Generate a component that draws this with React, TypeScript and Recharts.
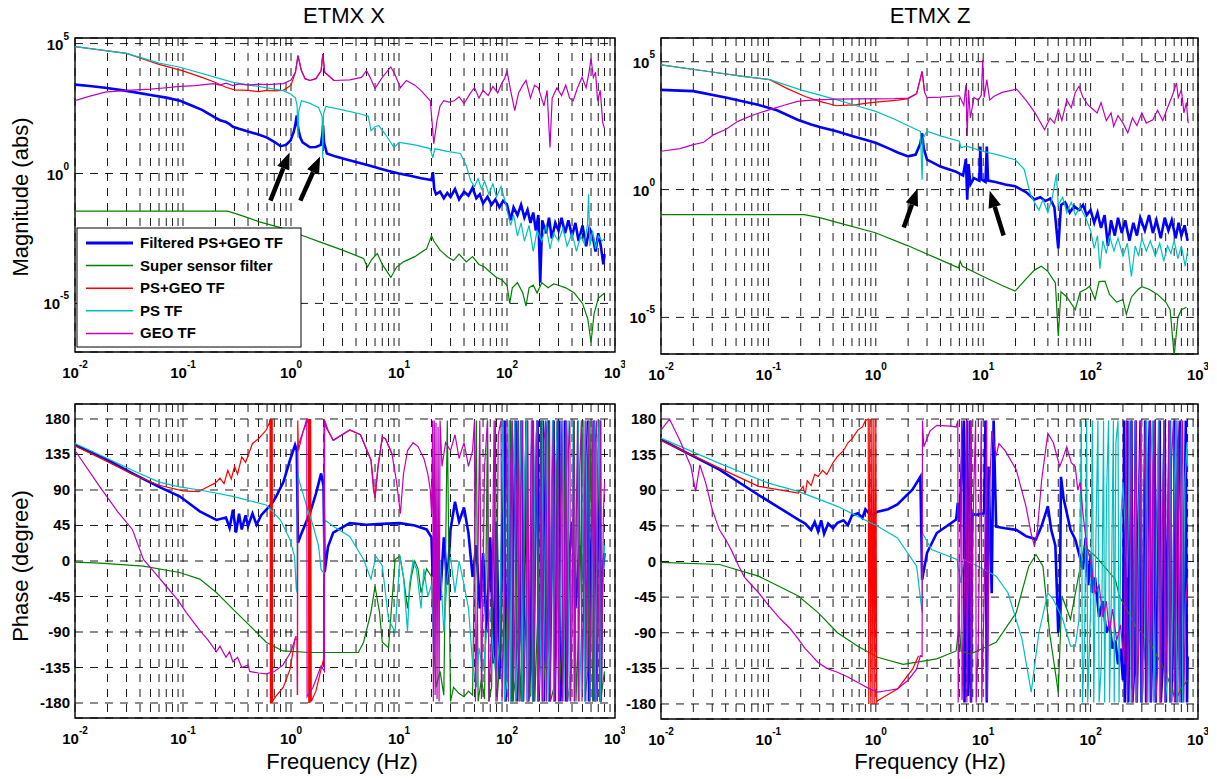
import { LineChart, Line, XAxis, YAxis, CartesianGrid, ReferenceLine, ReferenceArea } from "recharts";

type Pt = [number, number];
type Row = { f: number; v: number };

const FONT = "Arial, 'Liberation Sans', Helvetica, sans-serif";

const SERIES_NAMES = ["Filtered PS+GEO TF", "Super sensor filter", "PS+GEO TF", "PS TF", "GEO TF"];
const SERIES_COLORS = ["#0000ff", "#008000", "#ff0000", "#00bfbf", "#bf00bf"];
const SERIES_WIDTHS = [2.6, 1.2, 1.2, 1.2, 1.2];

const FREQ_TICKS = [
  0.01, 0.02, 0.03, 0.04, 0.05, 0.06, 0.07, 0.08, 0.09,
  0.1, 0.2, 0.3, 0.4, 0.5, 0.6, 0.7, 0.8, 0.9,
  1, 2, 3, 4, 5, 6, 7, 8, 9,
  10, 20, 30, 40, 50, 60, 70, 80, 90,
  100, 200, 300, 400, 500, 600, 700, 800, 900, 1000,
];
const FREQ_EXP: Record<string, string> = { "0.01": "-2", "0.1": "-1", "1": "0", "10": "1", "100": "2", "1000": "3" };
const MAG_TICKS = [1e-5, 1, 1e5];
const MAG_EXP: Record<string, string> = { "0.00001": "-5", "1": "0", "100000": "5" };
const PHASE_TICKS = [-180, -135, -90, -45, 0, 45, 90, 135, 180];

// ---------- ETMX X, magnitude (log10 of |TF|) ----------
const xMagBlue: Pt[] = [
  [0.01, 3.42], [0.013, 3.38], [0.019, 3.3], [0.03, 3.18], [0.05, 3.02], [0.07, 2.92], [0.094, 2.8], [0.12, 2.62],
  [0.15, 2.45], [0.19, 2.2], [0.22, 2.05], [0.25, 1.98], [0.27, 1.9], [0.29, 1.8], [0.33, 1.72], [0.4, 1.62],
  [0.5, 1.5], [0.6, 1.38], [0.7, 1.22], [0.8, 1.05], [0.9, 1.1], [0.99, 1.27], [1.06, 1.6], [1.1, 1.9],
  [1.13, 2.23], [1.17, 1.7], [1.22, 1.38], [1.28, 1.2], [1.5, 1.01], [1.7, 1.02], [1.89, 1.1], [1.95, 1.5],
  [1.98, 1.85], [2.02, 1.2], [2.15, 0.77], [2.6, 0.65], [3.2, 0.55], [4, 0.44], [5.2, 0.32], [6.5, 0.2],
  [8, 0.1], [10, 0.0], [13, -0.1], [16, -0.18], [20, -0.25], [20.6, 0.05], [21.2, -0.6], [22, -0.8],
  [24, -0.7], [26, -0.95], [28, -0.75], [30, -0.9], [33, -0.6], [36, -1.0], [40, -0.7], [44, -0.85],
  [48, -0.55], [52, -0.95], [56, -0.8], [60, -1.15], [66, -0.9], [72, -1.2], [78, -1.0], [85, -1.3],
  [92, -1.05], [100, -1.2], [108, -1.8], [115, -1.3], [125, -1.6], [135, -1.2], [145, -1.7], [155, -1.4],
  [165, -1.9], [175, -1.5], [185, -2.2], [195, -1.6], [203, -4.2], [212, -1.8], [230, -2.3], [245, -1.7],
  [260, -2.5], [280, -1.9], [300, -2.2], [320, -1.7], [345, -2.3], [370, -1.8], [400, -2.4], [430, -1.9],
  [460, -2.6], [500, -2.0], [540, -2.8], [580, -2.1], [620, -2.4], [660, -3.0], [700, -2.3], [740, -2.8],
  [780, -3.5], [800, -3.1],
];
const xMagGreen: Pt[] = [
  [0.01, -1.45], [0.26, -1.45], [0.35, -1.62], [0.5, -1.85], [0.8, -2.08], [1.2, -2.35], [1.9, -2.65], [3, -2.95],
  [4.7, -3.27], [5.1, -3.6], [5.6, -3.3], [6.3, -3.08], [7, -3.5], [8.4, -4.0], [9.5, -3.6], [11, -3.4],
  [14, -3.2], [18, -2.9], [20, -2.4], [21, -2.6], [24, -2.95], [28, -3.2], [32, -3.35], [36, -3.1],
  [42, -3.4], [48, -3.2], [55, -3.5], [62, -3.6], [70, -3.8], [80, -4.0], [90, -4.1], [100, -4.3],
  [106, -5.0], [112, -4.4], [125, -4.2], [140, -4.6], [150, -5.1], [160, -4.4], [175, -4.3], [190, -4.6],
  [210, -4.2], [240, -4.4], [270, -4.25], [300, -4.3], [350, -4.4], [420, -4.6], [500, -5.0], [560, -5.6],
  [600, -6.5], [640, -5.4], [700, -4.8], [800, -4.6],
];
const xMagRed: Pt[] = [
  [0.01, 4.88], [0.03, 4.62], [0.06, 4.2], [0.1, 3.95], [0.15, 3.7], [0.2, 3.5], [0.25, 3.32], [0.3, 3.22],
  [0.4, 3.2], [0.5, 3.15], [0.6, 3.2], [0.7, 3.18], [0.85, 3.2], [1.0, 3.4], [1.1, 3.9], [1.16, 4.54],
  [1.25, 3.95], [1.35, 3.65], [1.5, 3.58], [1.7, 3.65], [1.9, 3.95], [1.97, 4.6], [2.05, 3.9], [2.5, 3.58],
];
const xMagCyan: Pt[] = [
  [0.01, 4.88], [0.03, 4.62], [0.06, 4.25], [0.094, 4.09], [0.2, 3.7], [0.29, 3.51], [0.5, 3.35], [0.7, 3.25],
  [0.85, 3.19], [1.0, 3.05], [1.1, 2.9], [1.14, 2.6], [1.16, 1.38], [1.18, 2.4], [1.25, 2.8], [1.5, 2.7],
  [1.8, 2.54], [1.94, 2.2], [1.97, 0.58], [2.0, 2.3], [2.1, 2.58], [3, 2.45], [4.5, 2.28], [5.2, 2.2],
  [5.5, 1.65], [6.0, 1.8], [6.5, 1.85], [7.5, 1.5], [9, 1.0], [10, 1.2], [14, 1.1], [19.5, 0.96],
  [20.5, 0.6], [21.5, 0.95], [28, 0.85], [37, 0.77], [42, 0.3], [46, -0.27], [50, -0.5], [54, -0.2],
  [58, -0.6], [62, -0.3], [68, -0.8], [74, -0.4], [80, -0.9], [88, -0.5], [95, -1.0], [100, -1.4],
  [108, -2.0], [115, -1.6], [125, -2.4], [135, -1.9], [145, -2.6], [160, -2.0], [175, -3.0], [190, -2.2],
  [210, -2.6], [230, -2.0], [250, -2.9], [270, -2.3], [300, -2.6], [330, -2.1], [360, -2.8], [400, -2.3],
  [440, -3.0], [480, -2.4], [520, -2.7], [555, -2.0], [570, -0.8], [585, -2.8], [620, -2.2], [660, -2.9],
  [700, -2.4], [760, -2.6], [800, -2.5],
];
const xMagMagenta: Pt[] = [
  [0.01, 2.8], [0.013, 2.95], [0.019, 3.13], [0.03, 3.2], [0.05, 3.25], [0.07, 3.3], [0.094, 3.35], [0.13, 3.38],
  [0.19, 3.46], [0.22, 3.4], [0.25, 3.48], [0.29, 3.38], [0.33, 3.45], [0.4, 3.4], [0.5, 3.44], [0.6, 3.42],
  [0.85, 3.46], [1.0, 3.6], [1.1, 3.9], [1.16, 4.54], [1.25, 3.95], [1.35, 3.65], [1.5, 3.58], [1.7, 3.65],
  [1.9, 3.95], [1.97, 4.6], [2.05, 3.9], [2.5, 3.58], [3.5, 3.6], [4.5, 3.7], [5, 3.96], [5.4, 3.7],
  [6, 3.27], [7, 3.7], [8.4, 4.1], [9.2, 3.8], [10.3, 3.3], [11.7, 3.58], [14, 3.4], [16, 3.19],
  [18.5, 2.9], [19.5, 2.8], [21, 1.15], [22.5, 2.04], [24, 2.6], [26, 2.8], [29, 2.75], [32.5, 2.8],
  [36, 2.95], [40, 2.7], [43, 2.9], [46, 3.1], [50, 3.3], [55, 2.9], [60, 3.2], [67, 3.0],
  [74, 3.35], [82, 3.1], [90, 3.5], [95, 3.65], [100, 3.96], [108, 3.2], [118, 2.42], [128, 3.1],
  [140, 3.4], [150, 3.58], [165, 2.9], [180, 3.4], [195, 3.3], [220, 2.6], [235, 3.2], [250, 1.0],
  [262, 2.9], [290, 3.3], [320, 3.0], [350, 3.4], [380, 2.9], [410, 2.8], [450, 3.3], [495, 3.7],
  [540, 3.3], [575, 3.9], [600, 4.42], [630, 3.7], [660, 3.9], [690, 2.8], [730, 3.2], [770, 1.96], [800, 1.73],
];

// ---------- ETMX Z, magnitude (log10 of |TF|) ----------
const zMagBlue: Pt[] = [
  [0.01, 3.9], [0.02, 3.85], [0.04, 3.6], [0.08, 3.32], [0.12, 3.1], [0.187, 2.73], [0.25, 2.55], [0.3, 2.45],
  [0.43, 2.28], [0.6, 2.1], [0.8, 1.95], [1.01, 1.82], [1.3, 1.62], [1.6, 1.45], [2.0, 1.3], [2.35, 1.37],
  [2.6, 1.8], [2.7, 2.2], [2.8, 1.6], [3.0, 1.17], [4, 0.9], [5.5, 0.71], [6.5, 0.55], [6.9, 1.2],
  [7.1, -0.4], [7.3, 1.0], [7.6, 0.2], [8.2, 0.45], [9.2, 0.35], [9.4, 1.68], [9.6, 0.4], [10.5, 0.3],
  [10.8, 1.68], [11.1, 0.35], [13, 0.3], [16, 0.2], [19.8, 0.13], [25, -0.1], [30, -0.39], [34, -0.3],
  [38, -0.45], [42, -0.35], [46, -0.7], [50, -2.3], [53, -0.6], [58, -0.5], [64, -0.9], [70, -0.65],
  [78, -0.8], [85, -0.6], [92, -1.0], [100, -0.8], [108, -1.3], [116, -0.9], [125, -1.5], [135, -1.0],
  [145, -2.2], [155, -1.2], [168, -1.8], [180, -1.1], [195, -1.7], [210, -1.2], [230, -2.0], [250, -1.3],
  [270, -1.8], [290, -1.1], [320, -1.6], [350, -1.0], [380, -1.7], [410, -1.2], [450, -1.9], [490, -1.1],
  [530, -1.6], [570, -1.2], [620, -1.9], [660, -1.3], [700, -1.8], [750, -1.4], [800, -2.0],
];
const zMagGreen: Pt[] = [
  [0.01, -0.98], [0.216, -0.98], [0.3, -1.1], [0.5, -1.35], [0.99, -1.69], [2, -2.2], [4, -2.75], [5.9, -3.06],
  [6.1, -2.8], [6.4, -3.0], [10, -3.4], [15, -3.75], [19.8, -3.97], [25, -3.5], [30, -3.15], [34.8, -3.0],
  [40, -3.2], [47, -3.65], [50, -5.73], [53, -4.0], [60, -4.2], [72, -4.69], [80, -4.0], [90, -3.9],
  [98, -3.78], [110, -4.3], [120, -3.6], [136, -3.58], [150, -4.1], [175, -4.4], [200, -4.3], [215, -4.88],
  [240, -4.2], [278, -3.9], [300, -3.8], [350, -3.9], [420, -4.1], [500, -4.4], [550, -4.7], [600, -6.5],
  [650, -5.0], [700, -4.7], [780, -4.6],
];
const zMagRed: Pt[] = [
  [0.01, 4.88], [0.03, 4.6], [0.06, 4.42], [0.103, 4.3], [0.15, 3.95], [0.22, 3.64], [0.3, 3.45], [0.43, 3.28],
  [0.55, 3.3], [0.66, 3.32], [0.9, 3.4], [1.2, 3.45], [1.6, 3.5], [2.0, 3.56], [2.4, 3.75], [2.7, 4.62], [2.85, 3.8],
];
const zMagCyan: Pt[] = [
  [0.01, 4.88], [0.03, 4.6], [0.06, 4.42], [0.103, 4.3], [0.2, 3.9], [0.43, 3.52], [0.7, 3.25], [1.0, 3.06],
  [1.5, 2.75], [2.0, 2.5], [2.6, 2.28], [2.7, 0.39], [2.75, 2.0], [3.0, 2.28], [4, 2.1], [6, 1.89],
  [6.2, 1.64], [7, 1.7], [9.9, 1.5], [14, 1.35], [19.8, 1.17], [24, 0.8], [27.6, -0.2], [30, -0.5],
  [33, -0.8], [36, -0.4], [40, -0.9], [44, -0.3], [48, 0.6], [50, -0.6], [55, -0.3], [60, -0.9],
  [66, -0.5], [72, -1.0], [80, -0.7], [90, -1.1], [100, -1.6], [108, -2.3], [116, -1.8], [122, -3.1],
  [130, -2.0], [140, -2.5], [150, -1.8], [165, -2.4], [180, -1.9], [200, -2.6], [220, -2.1], [240, -3.4],
  [260, -2.2], [280, -2.6], [300, -1.9], [330, -2.4], [360, -2.0], [400, -2.6], [440, -2.1], [480, -2.8],
  [520, -2.2], [560, -2.5], [600, -2.0], [650, -2.7], [700, -2.2], [760, -3.0], [800, -2.4],
];
const zMagMagenta: Pt[] = [
  [0.01, 1.5], [0.015, 1.6], [0.02, 1.76], [0.025, 1.85], [0.031, 2.15], [0.04, 2.35], [0.052, 2.67], [0.07, 2.9],
  [0.103, 3.13], [0.14, 3.3], [0.187, 3.45], [0.25, 3.5], [0.43, 3.54], [0.7, 3.55], [1.0, 3.55], [1.5, 3.56],
  [2.0, 3.58], [2.4, 3.75], [2.7, 4.62], [2.85, 3.8], [3.0, 3.6], [4, 3.62], [6, 3.67], [6.6, 3.3],
  [6.9, 4.1], [7.1, 2.1], [7.3, 3.9], [7.6, 2.8], [8.2, 3.6], [9, 3.5], [9.6, 3.7], [9.9, 5.08],
  [10.2, 3.6], [10.8, 4.3], [11.5, 3.5], [12.5, 3.64], [15, 3.8], [20.5, 3.93], [25, 3.5], [30.4, 3.0],
  [37.3, 2.34], [42, 2.8], [46, 2.6], [50, 3.13], [54, 2.7], [60, 3.5], [66, 3.2], [72, 3.8],
  [78, 4.04], [85, 3.6], [95, 3.3], [106, 3.13], [115, 3.0], [125, 3.4], [140, 2.7], [155, 3.0],
  [164, 2.47], [180, 2.9], [200, 2.6], [222, 2.22], [245, 2.8], [270, 2.5], [300, 3.0], [330, 2.6],
  [380, 2.73], [420, 3.1], [470, 2.7], [520, 3.2], [580, 3.7], [630, 4.17], [655, 3.6], [700, 3.9],
  [740, 3.0], [780, 3.4], [810, 2.6],
];

// ---------- ETMX X, phase (degree) ----------
const xPhBlue: Pt[] = [
  [0.01, 147], [0.02, 128], [0.034, 111], [0.06, 94], [0.093, 82], [0.143, 63], [0.204, 52], [0.25, 55],
  [0.27, 42], [0.29, 65], [0.31, 36], [0.33, 60], [0.35, 40], [0.38, 58], [0.4, 44], [0.44, 60],
  [0.48, 46], [0.53, 58], [0.59, 65], [0.66, 72], [0.73, 82], [0.85, 100], [0.98, 128], [1.09, 147],
  [1.13, 140], [1.16, 23], [1.25, 35], [1.5, 61], [1.7, 85], [1.9, 111], [2.0, 95], [2.05, -14],
  [2.2, 18], [2.46, 36], [3.5, 48], [5, 46], [7, 47], [10.2, 48], [14, 45], [18, 40],
  [20, 30], [20.5, -20], [21, 15], [22, -40], [23, 20], [24, -50], [26, 30], [28, -30],
  [30, 40], [33, 75], [36, 50], [40, 68], [44, 35], [48, -20], [52, 20], [56, -60],
  [60, 10], [65, -90], [70, 30], [75, -130], [80, 50], [85, -150], [90, 0], [95, 178],
  [97, -178], [102, -40], [107, 178], [110, -178], [115, 80], [120, 178], [123, -178], [130, -100],
  [136, 178], [139, -178], [146, 20], [152, 178], [156, -178], [164, -140], [171, 178], [175, -178],
  [184, 100], [192, 178], [196, -178], [206, -60], [215, 178], [220, -178], [231, 150], [240, 178],
  [246, -178], [258, -20], [270, 178], [277, -178], [290, 60], [305, 178], [312, -178], [330, -110],
  [345, 178], [354, -178], [375, 0], [400, 50], [430, -60], [470, 20], [520, -30], [560, 178],
  [575, -178], [600, 0], [640, 178], [656, -178], [690, 30], [720, 178], [735, -178], [760, -20], [800, 10],
];
const xPhGreen: Pt[] = [
  [0.01, -1.5], [0.017, -2.6], [0.043, -6.5], [0.093, -14.6], [0.143, -23], [0.204, -40], [0.29, -61], [0.415, -82],
  [0.59, -103], [0.84, -114], [1.5, -116], [4.2, -116], [4.7, -103], [5.5, -65], [6, -32], [6.6, -65],
  [7, -103], [8, -110], [9.2, 2], [10.2, 6], [11, -20], [12, -60], [13, -20], [14, 0],
  [15, -10], [16, -40], [18, -10], [20, -20], [21, -100], [22, -160], [24, -140], [26, -170],
  [28, 178], [30, -178], [32, -160], [36, -168], [40, -172], [44, -165], [48, -170], [52, 178],
  [54, -178], [58, -150], [62, -175], [66, 178], [68, -178], [72, -160], [78, 178], [81, -178],
  [86, -120], [92, 178], [95, -178], [102, -20], [108, 178], [112, -178], [120, -150], [128, 178],
  [132, -178], [142, -80], [150, 178], [155, -178], [166, -170], [176, 178], [181, -178], [195, -40],
  [205, 178], [212, -178], [228, -120], [245, 178], [253, -178], [272, -160], [290, 178], [300, -178],
  [325, -100], [350, 178], [362, -178], [390, -150], [420, 178], [435, -178], [470, -60], [505, 178],
  [523, -178], [560, -140], [600, 178], [620, -178], [665, -100], [710, 178], [735, -178], [780, -150], [800, -140],
];
const xPhRed: Pt[] = [
  [0.01, 146], [0.02, 126], [0.034, 110], [0.06, 96], [0.1, 89], [0.14, 88], [0.17, 94], [0.2, 99],
  [0.22, 105], [0.24, 98], [0.26, 115], [0.28, 104], [0.3, 120], [0.32, 110], [0.35, 132], [0.38, 125],
  [0.44, 149], [0.5, 155], [0.59, 166], [0.63, 175], [0.64, 180], [0.645, -180], [0.65, 180], [0.655, -180],
  [0.66, 180], [0.665, -180], [0.67, 180], [0.675, -178], [0.72, -172], [0.85, -160], [0.98, -137], [1.1, -96],
  [1.14, -96], [1.15, -170], [1.155, 178], [1.17, 140], [1.3, 165], [1.45, 180], [1.46, -180], [1.48, 180],
  [1.5, -180], [1.52, 180], [1.54, -178], [1.7, -165], [1.9, -137], [2.0, -125], [2.02, 180], [2.1, 170],
  [2.46, 153], [3.5, 166], [4.4, 160], [5.5, 128], [6, 80], [6.4, 120], [7, 157], [7.5, 155], [8.6, 136],
];
const xPhCyan: Pt[] = [
  [0.01, 149], [0.02, 130], [0.034, 115], [0.06, 100], [0.093, 94], [0.143, 90], [0.29, 82], [0.59, 71],
  [0.8, 52], [0.98, 27], [1.08, 5], [1.12, -36], [1.14, -40], [1.15, 111], [1.2, 100], [1.4, 69],
  [1.6, 45], [1.8, 19], [1.9, -11], [2.0, -15], [2.05, 52], [2.46, 44], [3.5, 31], [4.7, 2],
  [5.5, -23], [6.1, 6], [7, -6], [8, -74], [9.2, -90], [10.2, 6], [11, -20], [12, -90],
  [12.5, -30], [13.5, 0], [14.5, -10], [16, -60], [17, -10], [18.5, -45], [20, -30], [21, -120],
  [22, -60], [24, 0], [26, -90], [28, -20], [30, 5], [33, -40], [36, 0], [40, -30],
  [44, -60], [48, -130], [52, -160], [55, -110], [60, -140], [65, -90], [70, -60], [75, -120],
  [80, -150], [85, -100], [92, 178], [95, -178], [100, -150], [105, 178], [108, -178], [112, 60],
  [118, 178], [121, -178], [128, -90], [135, 178], [138, -178], [145, 100], [152, 178], [155, -178],
  [163, -20], [170, 178], [174, -178], [182, 140], [190, 178], [194, -178], [203, -130], [212, 178],
  [216, -178], [226, 30], [236, 178], [241, -178], [252, -70], [264, 178], [270, -178], [282, 120],
  [295, 178], [301, -178], [315, -10], [330, 178], [337, -178], [352, 90], [368, 178], [376, -178],
  [393, -120], [410, 178], [419, -178], [438, 40], [458, 178], [468, -178], [490, -80], [512, 178],
  [523, -178], [547, 130], [572, 178], [585, -178], [612, -40], [640, 178], [654, -178], [685, 60],
  [715, 178], [730, -178], [760, -50], [800, 20],
];
const xPhMagenta: Pt[] = [
  [0.01, 140], [0.017, 94], [0.025, 62], [0.034, 40], [0.043, 2], [0.055, -15], [0.07, -32], [0.09, -50],
  [0.107, -65], [0.143, -88], [0.17, -100], [0.204, -115], [0.22, -108], [0.25, -122], [0.27, -115], [0.29, -128],
  [0.32, -122], [0.35, -135], [0.4, -132], [0.415, -140], [0.5, -142], [0.59, -143], [0.7, -140], [0.84, -132],
  [1.0, -115], [1.09, -99], [1.14, -99], [1.145, -170], [1.15, 144], [1.3, 165], [1.4, 180], [1.41, -172],
  [1.6, -160], [1.9, -133], [2.04, -140], [2.05, 178], [2.2, 166], [2.46, 153], [3.5, 166], [4.4, 160],
  [5.5, 128], [5.8, 90], [6, 80], [6.4, 120], [7, 157], [7.5, 155], [8.6, 136], [9.5, 100],
  [10.3, 60], [11, 110], [12, 140], [13.5, 150], [15, 145], [17, 130], [18.5, 110], [19.5, 90],
  [20, 60], [20.5, 178], [20.8, -178], [21.2, 178], [21.6, -170], [22, 175], [22.5, -175], [23, 170],
  [23.5, -178], [24, 178], [25, 120], [27, 150], [30, 140], [33, 160], [36, 130], [40, 150],
  [44, 120], [48, 140], [50, 178], [51, -178], [53, -60], [56, 178], [58, -175], [62, 120],
  [66, 178], [68, -178], [72, -90], [76, 178], [79, -178], [83, 160], [88, 178], [90, -178],
  [95, -40], [100, 178], [103, -178], [108, 120], [112, 178], [115, -178], [120, 0], [126, 178],
  [129, -178], [134, 90], [140, 178], [143, -178], [150, -60], [156, 178], [160, -178], [167, 130],
  [172, 178], [176, -178], [183, 40], [190, 178], [194, -178], [200, -100], [208, 178], [212, -178],
  [220, 150], [228, 178], [232, -178], [240, -20], [248, 178], [252, -178], [262, 100], [270, 178],
  [275, -178], [285, -120], [295, 178], [300, -178], [312, 60], [322, 178], [327, -178], [340, -40],
  [352, 178], [357, -178], [370, 140], [382, 178], [388, -178], [400, -90], [415, 178], [421, -178],
  [436, 30], [450, 178], [457, -178], [472, 120], [488, 178], [495, -178], [512, -60], [530, 178],
  [537, -178], [556, 80], [575, 178], [583, -178], [603, -30], [624, 178], [632, -178], [655, 150],
  [678, 178], [687, -178], [712, 0], [740, 178], [750, -178], [780, 60], [800, 100],
];

// ---------- ETMX Z, phase (degree) ----------
const zPhBlue: Pt[] = [
  [0.01, 154], [0.035, 116], [0.081, 84], [0.19, 53], [0.22, 48], [0.25, 40], [0.27, 50], [0.29, 38],
  [0.31, 52], [0.33, 35], [0.36, 48], [0.4, 42], [0.44, 49], [0.5, 52], [0.55, 46], [0.6, 58],
  [0.68, 61], [0.75, 55], [0.8, 66], [0.9, 58], [1.04, 63], [1.3, 66], [1.59, 72], [2.2, 91],
  [2.6, 107], [2.7, -23], [3.0, 11], [3.7, 36], [5.6, 53], [5.8, 74], [6.0, 50], [6.6, 178],
  [6.7, -178], [6.9, 60], [7.1, 178], [7.2, -170], [7.4, -120], [7.6, 178], [7.7, -178], [7.9, 60],
  [8.6, 59], [10.2, 61], [10.5, 178], [10.8, -178], [11.2, 120], [12, -40], [12.5, 178], [13.2, 44],
  [16, 42], [20.3, 40], [25, 32], [31, 28], [35, 45], [40, 70], [43, 40], [47, 20],
  [50, -90], [51.6, -65], [53, 107], [56, 80], [65, 40], [72, 28], [78, 10], [85, -10],
  [90, 30], [95, -30], [100, 10], [105, -40], [110, -20], [120, -70], [130, -50], [140, -90],
  [150, -80], [160, -110], [170, -100], [180, -130], [190, -110], [200, -150], [205, 178], [208, -178],
  [214, -100], [220, 178], [224, -178], [232, -60], [240, 178], [245, -178], [254, -140], [263, 178],
  [269, -178], [280, 40], [292, 178], [298, -178], [310, -110], [322, 178], [329, -178], [342, 100],
  [356, 178], [364, -178], [379, -80], [395, 178], [404, -178], [421, 60], [440, 178], [450, -178],
  [470, -130], [490, 178], [502, -178], [525, 20], [548, 178], [561, -178], [587, -100], [614, 178],
  [629, -178], [658, 150], [688, 178], [705, -178], [738, -40], [770, 178], [790, -178], [800, -120],
];
const zPhGreen: Pt[] = [
  [0.01, -1], [0.035, -3.8], [0.081, -18.5], [0.19, -43.7], [0.29, -64.6], [0.44, -90], [0.68, -107], [1.04, -121],
  [1.8, -130], [3.7, -123], [5.6, -113], [6.0, -77], [6.2, -113], [7.6, -117], [13.2, -102], [20.3, -64.6],
  [26.6, -5.9], [31, 8.8], [36, -5.9], [41.5, -90], [50, -165], [54, -43.7], [60, -60], [65, -73],
  [87, 19], [111, 6.7], [170, -22.7], [185, -43.7], [260, -81], [350, -100], [500, -140], [620, -175],
  [700, -160], [800, -150],
];
const zPhRed: Pt[] = [
  [0.01, 153], [0.035, 118], [0.081, 95], [0.19, 86.5], [0.21, 95], [0.22, 85], [0.23, 102], [0.25, 96],
  [0.27, 110], [0.29, 107.5], [0.32, 115], [0.35, 110], [0.4, 125], [0.44, 132.7], [0.5, 140], [0.55, 150],
  [0.6, 155], [0.68, 166], [0.75, 170], [0.8, 178], [0.85, 180], [0.86, -180], [0.88, 180], [0.9, -180],
  [0.92, 180], [0.94, -180], [0.96, 180], [0.98, -180], [1.0, 180], [1.02, -178], [1.04, -176], [1.3, -168],
  [1.59, -161], [2.2, -136], [2.5, -119],
];
const zPhCyan: Pt[] = [
  [0.01, 156], [0.035, 124], [0.1, 99], [0.19, 88.6], [0.44, 69.7], [1.04, 44.5], [1.59, 29.8], [2.4, -5.9],
  [2.7, -64.6], [2.72, 36], [3.3, 15], [5.7, 2.5], [6.2, -27], [6.6, 2.5], [10.2, -10], [13.2, -18.5],
  [17, -39.5], [23, -98], [28, -165], [33, -90], [40, -39.5], [45, -48], [55, -73], [65, -107],
  [72, -107], [78, -73], [82, 178], [84, -178], [88, -100], [92, 178], [94, -178], [100, -60],
  [104, 178], [107, -178], [112, 30], [117, 178], [120, -178], [126, -130], [132, 178], [135, -178],
  [141, 90], [147, 178], [150, -178], [156, -40], [163, 178], [166, -178], [172, 150], [180, 178],
  [184, -178], [192, 60], [200, 100], [210, 40], [220, -20], [232, 178], [238, -178], [250, -150],
  [262, 178], [268, -178], [282, 80], [296, 178], [303, -178], [318, -90], [334, 178], [342, -178],
  [360, 120], [378, 178], [387, -178], [407, -20], [428, 178], [438, -178], [460, 60], [484, 178],
  [496, -178], [522, -140], [549, 178], [562, -178], [591, 30], [621, 178], [636, -178], [668, -80],
  [702, 178], [719, -178], [755, 100], [790, 150], [800, 120],
];
const zPhMagenta: Pt[] = [
  [0.01, 166], [0.012, 180], [0.015, 153], [0.019, 120], [0.021, 88.6], [0.023, 122], [0.026, 100], [0.03, 65.5],
  [0.035, 40], [0.04, 27.7], [0.045, 15], [0.053, -5.9], [0.06, -20], [0.07, -30], [0.081, -39.5], [0.1, -55],
  [0.13, -73], [0.16, -85], [0.19, -98], [0.22, -110], [0.25, -118], [0.29, -127.6], [0.35, -135], [0.44, -140],
  [0.55, -146], [0.68, -153], [0.85, -160], [1.04, -165], [1.3, -163], [1.59, -161], [2.0, -150], [2.4, -136],
  [2.6, -119], [2.7, -120], [2.72, 178], [2.8, 145], [3.2, 165], [3.7, 172], [5, 171], [5.6, 170],
  [5.8, 178], [5.85, -178], [6, -60], [6.3, 178], [6.35, -175], [6.7, -30], [7.0, 178], [7.05, -178],
  [7.4, 100], [7.6, 178], [7.7, -178], [8, 40], [8.5, 178], [8.6, -178], [9, -100], [9.6, 178],
  [9.7, -178], [10.2, -50], [10.8, 178], [10.9, -176], [11.5, 90], [12, 165], [13.2, 133], [14, 149],
  [16, 140], [20.3, 116], [25, 70], [28, 35], [30, 19], [32, 40], [35, 103], [40, 162],
  [45, 150], [51.6, 120], [55, 130], [60, 145], [66, 125], [72, 120], [76, 90], [80, 100],
  [85, 60], [92, 20], [100, 0], [110, -40], [120, -30], [130, -70], [140, -50], [150, -90],
  [160, -60], [175, -100], [190, -80], [205, -130], [215, 178], [220, -178], [230, -80], [240, 178],
  [246, -178], [255, 50], [265, 178], [271, -178], [282, -100], [293, 178], [300, -178], [312, 80],
  [324, 178], [331, -178], [345, -60], [358, 178], [366, -178], [380, 120], [395, 178], [404, -178],
  [420, -140], [437, 178], [447, -178], [465, 40], [483, 178], [494, -178], [513, -90], [533, 178],
  [545, -178], [567, 130], [590, 178], [603, -178], [627, -30], [652, 178], [667, -178], [693, 90],
  [720, 178], [737, -178], [765, -60], [800, -20],
];

// annotation arrows (tail -> tip), in data coordinates
const ARROWS_X = [
  { from: [0.645, 0.091], to: [0.97, 6.5] },
  { from: [1.22, 0.091], to: [1.86, 4.5] },
];
const ARROWS_Z = [
  { from: [1.82, 0.033], to: [2.45, 1.1] },
  { from: [15.5, 0.016], to: [11.5, 0.91] },
];

const mag = (pts: Pt[]): Row[] => pts.map(([f, e]) => ({ f, v: Math.pow(10, e) }));
const phase = (pts: Pt[]): Row[] => pts.map(([f, v]) => ({ f, v }));

const tickFont = { fontFamily: FONT, fontWeight: 700, fontSize: 15, fill: "#000" };

function FreqTick({ x, y, payload }: any) {
  const exp = FREQ_EXP[String(payload.value)];
  if (exp === undefined) return <g />;
  return (
    <text x={x} y={y + 26} textAnchor="middle" style={tickFont}>
      10<tspan dy={-10} fontSize={10}>{exp}</tspan>
    </text>
  );
}

function MagTick({ x, y, payload }: any) {
  const exp = MAG_EXP[String(payload.value)];
  if (exp === undefined) return <g />;
  return (
    <text x={x - 6} y={y + 6} textAnchor="end" style={tickFont}>
      10<tspan dy={-10} fontSize={10}>{exp}</tspan>
    </text>
  );
}

function PhaseTick({ x, y, payload }: any) {
  return (
    <text x={x - 5} y={y + 5} textAnchor="end" style={tickFont}>
      {payload.value}
    </text>
  );
}

function ArrowShape(props: any) {
  const { x1, y1, x2, y2 } = props;
  if ([x1, y1, x2, y2].some((n) => typeof n !== "number" || isNaN(n))) return <g />;
  const ang = Math.atan2(y2 - y1, x2 - x1);
  const len = 17;
  const half = 6.5;
  const bx = x2 - len * Math.cos(ang);
  const by = y2 - len * Math.sin(ang);
  const px = -Math.sin(ang) * half;
  const py = Math.cos(ang) * half;
  return (
    <g>
      <line x1={x1} y1={y1} x2={bx} y2={by} stroke="#000" strokeWidth={4.5} />
      <polygon points={`${x2},${y2} ${bx + px},${by + py} ${bx - px},${by - py}`} fill="#000" />
    </g>
  );
}

type Box = { x: number; y: number; w: number; h: number };
type PanelProps = {
  box: Box;
  kind: "mag" | "phase";
  yDomain: [number, number];
  series: Row[][];
  arrows?: { from: number[]; to: number[] }[];
};

const PAD_TOP = 12;

function Panel({ box, kind, yDomain, series, arrows = [] }: PanelProps) {
  const isMag = kind === "mag";
  return (
    <div style={{ position: "absolute", left: box.x - 70, top: box.y - PAD_TOP }}>
      <LineChart width={box.w + 80} height={box.h + PAD_TOP + 40} margin={{ top: PAD_TOP, right: 10, bottom: 0, left: 0 }}>
        <CartesianGrid stroke="#000" strokeDasharray="8 7" strokeWidth={0.9} />
        <XAxis
          dataKey="f"
          type="number"
          scale="log"
          domain={[0.01, 1000]}
          ticks={FREQ_TICKS}
          interval={0}
          allowDataOverflow
          tick={<FreqTick />}
          tickLine={false}
          axisLine={false}
          tickSize={0}
          tickMargin={0}
          height={40}
        />
        <YAxis
          type="number"
          scale={isMag ? "log" : "linear"}
          domain={yDomain}
          ticks={isMag ? MAG_TICKS : PHASE_TICKS}
          interval={0}
          allowDataOverflow
          tick={isMag ? <MagTick /> : <PhaseTick />}
          tickLine={false}
          axisLine={false}
          tickSize={0}
          tickMargin={0}
          width={70}
        />
        {series.map((rows, i) => (
          <Line
            key={SERIES_NAMES[i]}
            name={SERIES_NAMES[i]}
            data={rows}
            dataKey="v"
            type="linear"
            stroke={SERIES_COLORS[i]}
            strokeWidth={SERIES_WIDTHS[i]}
            dot={false}
            activeDot={false}
            isAnimationActive={false}
          />
        ))}
        <ReferenceArea
          x1={0.01}
          x2={1000}
          y1={yDomain[0]}
          y2={yDomain[1]}
          fill="none"
          stroke="#000"
          strokeWidth={1.4}
          ifOverflow="visible"
        />
        {arrows.map((a, i) => (
          <ReferenceLine
            key={i}
            segment={[
              { x: a.from[0], y: a.from[1] },
              { x: a.to[0], y: a.to[1] },
            ]}
            shape={ArrowShape}
            ifOverflow="visible"
          />
        ))}
      </LineChart>
    </div>
  );
}

export default function App() {
  const xMag = [mag(xMagBlue), mag(xMagGreen), mag(xMagRed), mag(xMagCyan), mag(xMagMagenta)];
  const zMag = [mag(zMagBlue), mag(zMagGreen), mag(zMagRed), mag(zMagCyan), mag(zMagMagenta)];
  const xPh = [phase(xPhBlue), phase(xPhGreen), phase(xPhRed), phase(xPhCyan), phase(xPhMagenta)];
  const zPh = [phase(zPhBlue), phase(zPhGreen), phase(zPhRed), phase(zPhCyan), phase(zPhMagenta)];

  const labelStyle = { fontFamily: FONT, fontSize: 22, fill: "#000" };
  const legendFont = { fontFamily: FONT, fontWeight: 700, fontSize: 15, fill: "#000" };

  return (
    <div style={{ position: "relative", width: 1201, height: 771, fontFamily: FONT, background: "#fff" }}>
      <Panel box={{ x: 67, y: 30, w: 540, h: 314 }} kind="mag" yDomain={[1.35e-7, 1.64e5]} series={xMag} arrows={ARROWS_X} />
      <Panel box={{ x: 653, y: 30, w: 537, h: 316 }} kind="mag" yDomain={[3.7e-7, 8.5e5]} series={zMag} arrows={ARROWS_Z} />
      <Panel box={{ x: 67, y: 396, w: 540, h: 314 }} kind="phase" yDomain={[-199, 199]} series={xPh} />
      <Panel box={{ x: 653, y: 396, w: 537, h: 315 }} kind="phase" yDomain={[-199, 199]} series={zPh} />

      {/* overlay in page coordinates (covers the body margin too) */}
      <svg width={1217} height={779} style={{ position: "absolute", left: -8, top: -8, pointerEvents: "none" }}>
        <text x={344} y={23} textAnchor="middle" style={labelStyle}>ETMX X</text>
        <text x={930} y={23} textAnchor="middle" style={labelStyle}>ETMX Z</text>
        <text transform="translate(28,197) rotate(-90)" textAnchor="middle" style={labelStyle}>Magnitude (abs)</text>
        <text transform="translate(28,566) rotate(-90)" textAnchor="middle" style={labelStyle}>Phase (degree)</text>
        <text x={342} y={769} textAnchor="middle" style={labelStyle}>Frequency (Hz)</text>
        <text x={930} y={769} textAnchor="middle" style={labelStyle}>Frequency (Hz)</text>

        <rect x={77} y={228} width={224} height={119} fill="#fff" stroke="#000" strokeWidth={1} />
        {SERIES_NAMES.map((name, i) => {
          const cy = 243 + i * 22.6;
          return (
            <g key={name}>
              <line x1={86} x2={133} y1={cy} y2={cy} stroke={SERIES_COLORS[i]} strokeWidth={i === 0 ? 3 : 1.5} />
              <text x={140} y={cy + 5} style={legendFont}>
                {name}
              </text>
            </g>
          );
        })}
      </svg>
    </div>
  );
}
